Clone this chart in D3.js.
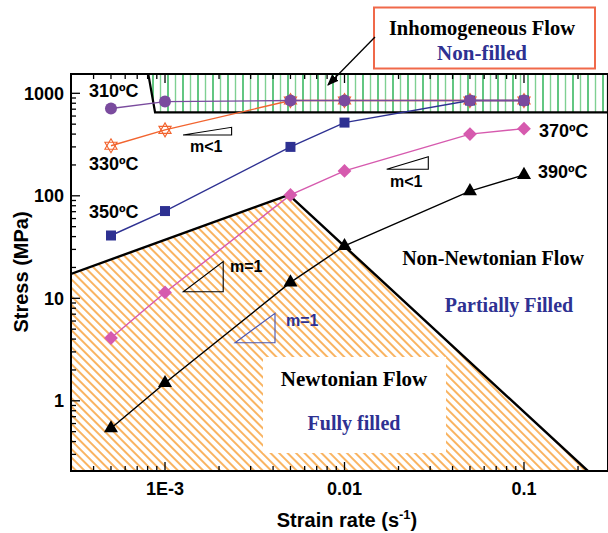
<!DOCTYPE html>
<html><head><meta charset="utf-8">
<script src="https://cdn.jsdelivr.net/npm/d3@7"></script>
<style>
html,body{margin:0;padding:0;background:#fff;}
svg{display:block;}
text{font-family:"Liberation Sans",Arial,sans-serif;font-weight:bold;}
.serif{font-family:"Liberation Serif","Times New Roman",serif;font-weight:bold;}
</style>
</head><body>
<svg id="c" width="608" height="533"></svg>
<script>
// ---------- data ----------
const strainRates = [5e-4, 1e-3, 5e-3, 0.01, 0.05, 0.1];
const stress310 = [710, 830, 850, 850, 850, 850];
const stress330 = [308, 440, 850, 850, 850, 850];
const stress350 = [41, 71, 300, 518, 850, 850];
const stress370 = [4.1, 11.4, 102, 175, 400, 452];
const stress390 = [0.54, 1.49, 14.3, 32.4, 111, 160];
const seriesNames = ["310ºC", "330ºC", "350ºC", "370ºC", "390ºC"];

const xDomain = [2.994e-4, 0.2938];
const yDomain = [0.2066, 1543];
const xTickValues = [1e-3, 0.01, 0.1];
const xTickLabels = ["1E-3", "0.01", "0.1"];
const yTickValues = [1, 10, 100, 1000];
const yTickLabels = ["1", "10", "100", "1000"];

// region boundaries (strain rate, stress)
const newtonianBoundary = [[2.994e-4, 17.3], [4.9e-3, 102], [0.227, 0.2066]];
const inhomogeneousBoundary = [[8.07e-4, 1543], [8.8e-4, 653], [0.2938, 653], [0.2938, 1543]];
// slope triangles: [x0, y0, x1, y1]
const slopeLess1a = [1.26e-3, 392, 2.35e-3, 466];
const slopeLess1b = [0.01718, 181.5, 0.0293, 240];
const slopeEq1Black = [1.265e-3, 11.6, 2.11e-3, 22.8];
const slopeEq1Blue = [2.455e-3, 3.69, 4.1e-3, 7.14];

// ---------- scales ----------
const svg = d3.select("#c");
const x = d3.scaleLog().domain(xDomain).range([71, 608]);
const y = d3.scaleLog().domain(yDomain).range([471, 74]);
const X0 = x.range()[0], X1 = x.range()[1], Y0 = y.range()[0], Y1 = y.range()[1];

const defs = svg.append("defs");
const ph = defs.append("pattern").attr("id", "hatchO").attr("patternUnits", "userSpaceOnUse")
  .attr("width", 10).attr("height", 6).attr("patternTransform", "rotate(45)");
ph.append("line").attr("x1", 0).attr("x2", 10).attr("y1", 3).attr("y2", 3)
  .attr("stroke", "#f7941d").attr("stroke-width", 1.4);
const pg = defs.append("pattern").attr("id", "hatchG").attr("patternUnits", "userSpaceOnUse")
  .attr("width", 15).attr("height", 10).attr("x", 0);
pg.append("line").attr("x1", 3).attr("x2", 3).attr("y1", 0).attr("y2", 10).attr("stroke", "#1fae4b").attr("stroke-width", 1.4);
pg.append("line").attr("x1", 10.5).attr("x2", 10.5).attr("y1", 0).attr("y2", 10).attr("stroke", "#7fd092").attr("stroke-width", 1.4);

const clip = defs.append("clipPath").attr("id", "plotClip");
clip.append("rect").attr("x", X0).attr("y", Y1).attr("width", X1 - X0).attr("height", Y0 - Y1);

const plot = svg.append("g").attr("clip-path", "url(#plotClip)");
const lineGen = d3.line().x(d => x(d[0])).y(d => y(d[1]));

// Newtonian hatched region
const newtonPoly = [[xDomain[0], yDomain[0]], ...newtonianBoundary];
plot.append("path").attr("d", lineGen(newtonPoly) + "Z").attr("fill", "url(#hatchO)");
// white label box
plot.append("rect").attr("x", 263).attr("y", 357).attr("width", 183).attr("height", 96).attr("fill", "#fff");

// Inhomogeneous region
plot.append("path").attr("d", lineGen(inhomogeneousBoundary) + "Z").attr("fill", "url(#hatchG)");

// boundary outlines
plot.append("path").attr("d", lineGen(newtonianBoundary)).attr("fill", "none").attr("stroke", "#000").attr("stroke-width", 2.4);
plot.append("path").attr("d", lineGen(inhomogeneousBoundary) + "Z").attr("fill", "none").attr("stroke", "#000").attr("stroke-width", 2.2);

// slope triangles
function slopeTri(s, color) {
  const pts = [[s[0], s[1]], [s[2], s[3]], [s[2], s[1]]];
  plot.append("path").attr("d", lineGen(pts) + "Z").attr("fill", "none").attr("stroke", color).attr("stroke-width", 1.1);
}
slopeTri(slopeLess1a, "#000");
slopeTri(slopeLess1b, "#000");
slopeTri(slopeEq1Black, "#000");
slopeTri(slopeEq1Blue, "#4a55b0");

// ---------- series ----------
function series(vals, color) {
  const pts = strainRates.map((r, i) => [r, vals[i]]);
  plot.append("path").attr("d", lineGen(pts)).attr("fill", "none").attr("stroke", color).attr("stroke-width", 1.4);
  return pts;
}
// 330 (orange crossed triangles)
const p330 = series(stress330, "#f2642f");
p330.forEach(p => {
  const cx = x(p[0]), cy = y(p[1]), r = 7;
  const up = [[cx, cy - r], [cx + r * 0.87, cy + r * 0.5], [cx - r * 0.87, cy + r * 0.5]];
  const dn = [[cx, cy + r], [cx + r * 0.87, cy - r * 0.5], [cx - r * 0.87, cy - r * 0.5]];
  [up, dn].forEach(t => plot.append("path").attr("d", d3.line()(t) + "Z").attr("fill", "none").attr("stroke", "#f2642f").attr("stroke-width", 1.1));
});
// 350 blue squares
const p350 = series(stress350, "#2e3192");
plot.selectAll(".sq").data(p350).enter().append("path")
  .attr("transform", d => `translate(${x(d[0])},${y(d[1])})`)
  .attr("d", d3.symbol().type(d3.symbolSquare).size(100)).attr("fill", "#2e3192");
// 310 purple circles
const p310 = series(stress310, "#7a4b9e");
plot.selectAll(".ci").data(p310).enter().append("circle")
  .attr("cx", d => x(d[0])).attr("cy", d => y(d[1])).attr("r", 6).attr("fill", "#7a4b9e");
// 370 pink diamonds
const p370 = series(stress370, "#d65aae");
plot.selectAll(".di").data(p370).enter().append("path")
  .attr("transform", d => `translate(${x(d[0])},${y(d[1])}) rotate(45)`)
  .attr("d", d3.symbol().type(d3.symbolSquare).size(95)).attr("fill", "#d65aae");
// 390 black triangles
const p390 = series(stress390, "#000");
plot.selectAll(".tr").data(p390).enter().append("path")
  .attr("transform", d => `translate(${x(d[0])},${y(d[1])})`)
  .attr("d", d3.symbol().type(d3.symbolTriangle).size(85)).attr("fill", "#000");

// ---------- frame & axes ----------
svg.append("rect").attr("x", X0).attr("y", Y1).attr("width", X1 - X0).attr("height", Y0 - Y1)
  .attr("fill", "none").attr("stroke", "#000").attr("stroke-width", 2);

const xMinor = [];
for (let e = -4; e <= 0; e++) for (let k = 1; k <= 9; k++) {
  const v = k * Math.pow(10, e);
  if (v > xDomain[0] && v < xDomain[1]) xMinor.push(v);
}
const yMinor = [];
for (let e = -1; e <= 3; e++) for (let k = 1; k <= 9; k++) {
  const v = k * Math.pow(10, e);
  if (v > yDomain[0] && v < yDomain[1]) yMinor.push(v);
}
const isMajor = v => Math.abs(Math.log10(v) - Math.round(Math.log10(v))) < 1e-9;
const axisG = svg.append("g");
xMinor.forEach(v => {
  const L = isMajor(v) ? 9 : 5;
  axisG.append("line").attr("x1", x(v)).attr("x2", x(v)).attr("y1", Y0).attr("y2", Y0 - L).attr("stroke", "#000").attr("stroke-width", 1.3);
  axisG.append("line").attr("x1", x(v)).attr("x2", x(v)).attr("y1", Y1).attr("y2", Y1 + L).attr("stroke", "#000").attr("stroke-width", 1.3);
});
yMinor.forEach(v => {
  const L = isMajor(v) ? 9 : 5;
  axisG.append("line").attr("x1", X0).attr("x2", X0 + L).attr("y1", y(v)).attr("y2", y(v)).attr("stroke", "#000").attr("stroke-width", 1.3);
});
xTickValues.forEach((v, i) => {
  svg.append("text").attr("x", x(v)).attr("y", 495).attr("text-anchor", "middle").attr("font-size", 18).text(xTickLabels[i]);
});
yTickValues.forEach((v, i) => {
  svg.append("text").attr("x", 64).attr("y", y(v)).attr("dy", "0.36em").attr("text-anchor", "end").attr("font-size", 18).text(yTickLabels[i]);
});
const xl = svg.append("text").attr("x", 347).attr("y", 527).attr("text-anchor", "middle").attr("font-size", 20);
xl.append("tspan").text("Strain rate (s");
xl.append("tspan").attr("dy", -8).attr("font-size", 13).text("-1");
xl.append("tspan").attr("dy", 8).text(")");
svg.append("text").attr("transform", "translate(28,272) rotate(-90)").attr("text-anchor", "middle").attr("font-size", 20).text("Stress (MPa)");

// ---------- labels ----------
const tl = [[89, 97], [89, 170], [89, 218], [539, 137], [538, 178]];
seriesNames.forEach((n, i) => {
  svg.append("text").attr("x", tl[i][0]).attr("y", tl[i][1]).attr("font-size", 18).text(n);
});
svg.append("text").attr("x", 190).attr("y", 152).attr("font-size", 16).text("m<1");
svg.append("text").attr("x", 390).attr("y", 187).attr("font-size", 16).text("m<1");
svg.append("text").attr("x", 230).attr("y", 272).attr("font-size", 16).text("m=1");
svg.append("text").attr("x", 286).attr("y", 326).attr("font-size", 16).attr("fill", "#2e3192").text("m=1");

svg.append("text").attr("class", "serif").attr("x", 493).attr("y", 265).attr("text-anchor", "middle").attr("font-size", 20).text("Non-Newtonian Flow");
svg.append("text").attr("class", "serif").attr("x", 509).attr("y", 312).attr("text-anchor", "middle").attr("font-size", 20).attr("fill", "#2e3192").text("Partially Filled");
svg.append("text").attr("class", "serif").attr("x", 354).attr("y", 386).attr("text-anchor", "middle").attr("font-size", 21).text("Newtonian Flow");
svg.append("text").attr("class", "serif").attr("x", 354).attr("y", 430).attr("text-anchor", "middle").attr("font-size", 20).attr("fill", "#2e3192").text("Fully filled");

// annotation box
svg.append("rect").attr("x", 374).attr("y", 7.5).attr("width", 221).attr("height", 61)
  .attr("fill", "#fff").attr("stroke", "#f0694a").attr("stroke-width", 2);
svg.append("text").attr("class", "serif").attr("x", 482).attr("y", 35).attr("text-anchor", "middle").attr("font-size", 20.5).text("Inhomogeneous Flow");
svg.append("text").attr("class", "serif").attr("x", 482).attr("y", 60).attr("text-anchor", "middle").attr("font-size", 21).attr("fill", "#2e3192").text("Non-filled");
defs.append("marker").attr("id", "arr").attr("viewBox", "0 0 10 10").attr("refX", 9).attr("refY", 5)
  .attr("markerWidth", 9).attr("markerHeight", 9).attr("orient", "auto")
  .append("path").attr("d", "M0,1 L10,5 L0,9 Z").attr("fill", "#000");
svg.append("line").attr("x1", 375).attr("y1", 37).attr("x2", 328).attr("y2", 85)
  .attr("stroke", "#000").attr("stroke-width", 1.3).attr("marker-end", "url(#arr)");
</script>
</body></html>
